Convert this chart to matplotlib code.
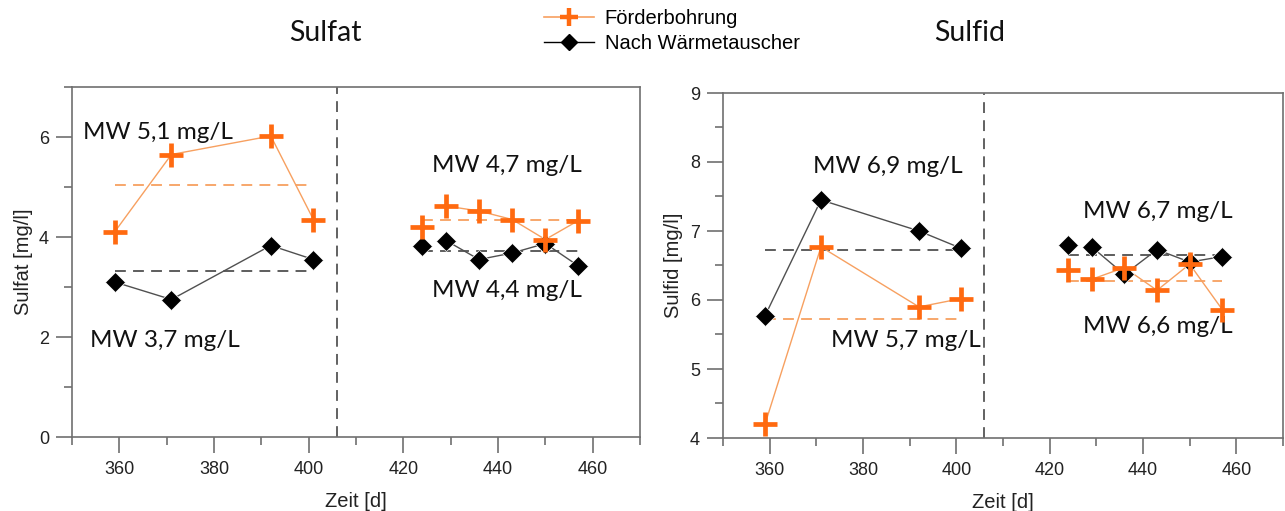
import matplotlib
matplotlib.use("Agg")
import matplotlib.pyplot as plt
from matplotlib.ticker import MultipleLocator

plt.rcParams["font.family"] = ["Liberation Sans", "DejaVu Sans"]

# ---- data ----
days_a = [359, 371, 392, 401]
days_b = [424, 429, 436, 443, 450, 457]

sulfat_foerder_a = [4.1, 5.65, 6.02, 4.35]
sulfat_foerder_b = [4.2, 4.62, 4.52, 4.35, 3.95, 4.33]
sulfat_waerme_a = [3.1, 2.75, 3.83, 3.55]
sulfat_waerme_b = [3.83, 3.93, 3.55, 3.68, 3.87, 3.42]
sulfat_mean_foerder = [5.05, 4.35]
sulfat_mean_waerme = [3.33, 3.72]

sulfid_foerder_a = [4.2, 6.77, 5.9, 6.02]
sulfid_foerder_b = [6.43, 6.3, 6.47, 6.14, 6.52, 5.86]
sulfid_waerme_a = [5.77, 7.45, 7.0, 6.75]
sulfid_waerme_b = [6.8, 6.77, 6.37, 6.73, 6.55, 6.63]
sulfid_mean_foerder = [5.72, 6.28]
sulfid_mean_waerme = [6.73, 6.65]

split_day = 406

ORANGE = "#FF6A10"
ORANGE_L = "#F7A060"
BLACK = "#000000"
GRAY = "#505050"
SPINE = "#707070"
TXT = "#222222"

fig = plt.figure(figsize=(12.85, 5.11), dpi=100)
ax1 = fig.add_axes([72 / 1285, 74 / 511, 568 / 1285, 350 / 511])
ax2 = fig.add_axes([723 / 1285, 73 / 511, 560 / 1285, 345 / 511])

def draw(ax, fa, fb, wa, wb, mf, mw):
    ax.plot(days_a, wa, color=GRAY, lw=1.0, zorder=2)
    ax.plot(days_b[1:], wb[1:], color=GRAY, lw=1.0, zorder=2)
    ax.plot(days_a, fa, color=ORANGE_L, lw=1.0, zorder=2)
    ax.plot(days_b[1:], fb[1:], color=ORANGE_L, lw=1.0, zorder=2)
    ax.plot(days_a + days_b, wa + wb, ls="none", marker="D", ms=10.5,
            color=BLACK, mec="white", mew=0.5, zorder=4)
    ax.plot(days_a + days_b, fa + fb, ls="none", marker="+", ms=17,
            mew=3.4, color=ORANGE, zorder=5)
    ax.plot([days_a[0], days_a[-1]], [mf[0]] * 2, ls=(0, (6, 4)), color=ORANGE_L, lw=1.3, zorder=1)
    ax.plot([days_b[0], days_b[-1]], [mf[1]] * 2, ls=(0, (6, 4)), color=ORANGE_L, lw=1.3, zorder=1)
    ax.plot([days_a[0], days_a[-1]], [mw[0]] * 2, ls=(0, (6, 4)), color=GRAY, lw=1.3, zorder=1)
    ax.plot([days_b[0], days_b[-1]], [mw[1]] * 2, ls=(0, (6, 4)), color=GRAY, lw=1.3, zorder=1)
    ax.axvline(split_day, color="#555555", ls=(0, (6, 4)), lw=1.3, zorder=1)
    for s in ax.spines.values():
        s.set_color(SPINE)
        s.set_linewidth(1.2)
    ax.set_xlim(350, 470)
    ax.xaxis.set_major_locator(MultipleLocator(20))
    ax.xaxis.set_minor_locator(MultipleLocator(10))
    ax.tick_params(which="both", direction="out", color=SPINE, labelsize=13,
                   labelcolor=TXT, width=1.2)
    ax.tick_params(which="major", length=11.5)
    ax.tick_params(which="minor", length=5.8)
    ax.tick_params(axis="x", which="major", pad=6)
    ax.tick_params(axis="y", which="major", pad=5)
    ax.set_xlabel("Zeit [d]", fontsize=14.5, color=TXT, labelpad=10)

draw(ax1, sulfat_foerder_a, sulfat_foerder_b, sulfat_waerme_a, sulfat_waerme_b,
     sulfat_mean_foerder, sulfat_mean_waerme)
ax1.set_ylim(0, 7)
ax1.yaxis.set_major_locator(MultipleLocator(2))
ax1.yaxis.set_minor_locator(MultipleLocator(1))
ax1.set_ylabel("Sulfat [mg/l]", fontsize=14.5, color=TXT, labelpad=4)

draw(ax2, sulfid_foerder_a, sulfid_foerder_b, sulfid_waerme_a, sulfid_waerme_b,
     sulfid_mean_foerder, sulfid_mean_waerme)
ax2.set_xlim(350, 470)
ax2.set_ylim(4, 9)
ax2.yaxis.set_major_locator(MultipleLocator(1))
ax2.yaxis.set_minor_locator(MultipleLocator(0.5))
ax2.set_ylabel("Sulfid [mg/l]", fontsize=14.5, color=TXT, labelpad=5)

AF = dict(fontsize=17.5, family="Lato", color="#111111", va="center", ha="left")
ax1.text(352.3, 6.1, "MW 5,1 mg/L", **AF)
ax1.text(353.8, 1.94, "MW 3,7 mg/L", **AF)
ax1.text(426.1, 5.44, "MW 4,7 mg/L", **AF)
ax1.text(426.1, 2.94, "MW 4,4 mg/L", **AF)
ax2.text(369.3, 7.94, "MW 6,9 mg/L", **AF)
ax2.text(373.1, 5.41, "MW 5,7 mg/L", **AF)
ax2.text(427.2, 7.28, "MW 6,7 mg/L", **AF)
ax2.text(427.2, 5.62, "MW 6,6 mg/L", **AF)

fig.text(325 / 1285, 1 - 33 / 511, "Sulfat", fontsize=20.5, family="Lato", ha="center", va="center", color="#111111")
fig.text(970 / 1285, 1 - 33 / 511, "Sulfid", fontsize=20.5, family="Lato", ha="center", va="center", color="#111111")

h1, = ax1.plot([], [], color=ORANGE_L, lw=1.2, marker="+", ms=13, mew=3.2, mec=ORANGE)
h2, = ax1.plot([], [], color=BLACK, lw=1.0, marker="D", ms=8, mfc=BLACK)
fig.legend([h1, h2], ["Förderbohrung", "Nach Wärmetauscher"], loc="upper left",
           bbox_to_anchor=(526 / 1285, 1.018), frameon=False, handlelength=2.5,
           handletextpad=0.5, labelspacing=0.3,
           prop=dict(family="Liberation Sans", size=14.5))

fig.savefig("out.png", dpi=100, facecolor="white")
